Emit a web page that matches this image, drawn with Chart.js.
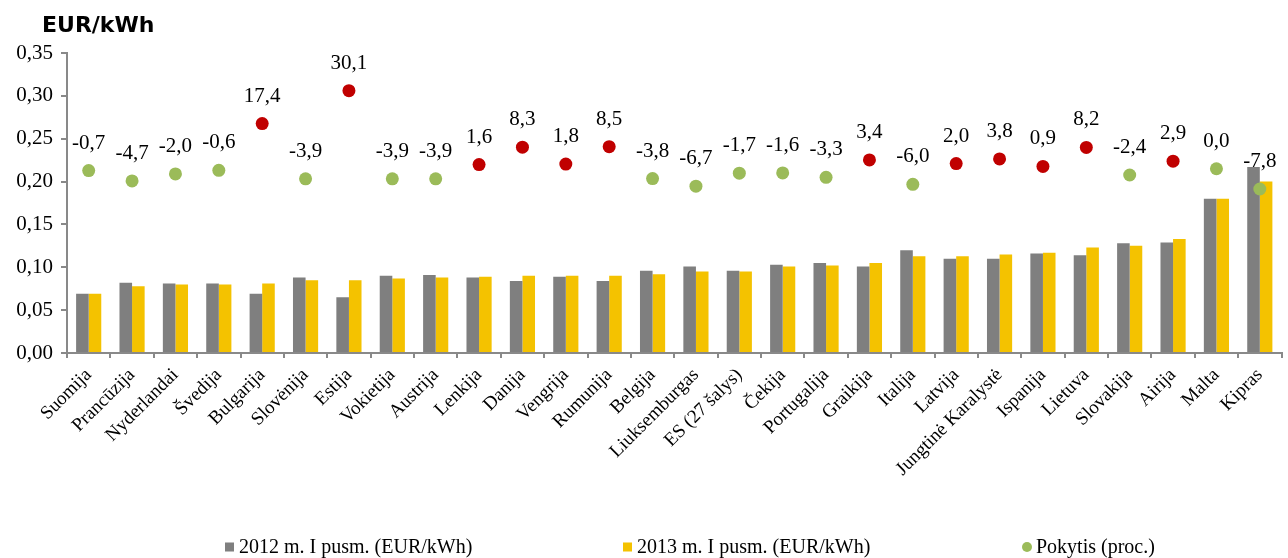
<!DOCTYPE html>
<html>
<head>
<meta charset="utf-8">
<title>EUR/kWh</title>
<script src="https://cdn.jsdelivr.net/npm/chart.js@4.4.0/dist/chart.umd.min.js"></script>
<style>
    html, body { margin: 0; padding: 0; background: #fff; }
    #wrap { position: relative; width: 1288px; height: 558px; }
</style>
</head>
<body>
<div id="wrap"><canvas id="chart"></canvas></div>
<script>
(function () {
    "use strict";

    // Data
    const categories = ["Suomija", "Prancūzija", "Nyderlandai", "Švedija", "Bulgarija", "Slovėnija",
        "Estija", "Vokietija", "Austrija", "Lenkija", "Danija", "Vengrija", "Rumunija", "Belgija",
        "Liuksemburgas", "ES (27 šalys)", "Čekija", "Portugalija", "Graikija", "Italija", "Latvija",
        "Jungtinė Karalystė", "Ispanija", "Lietuva", "Slovakija", "Airija", "Malta", "Kipras"];

    const price2012 = [0.069, 0.082, 0.081, 0.081, 0.069, 0.088, 0.065, 0.090, 0.091, 0.088,
        0.084, 0.089, 0.084, 0.096, 0.101, 0.096, 0.103, 0.105, 0.101, 0.120, 0.110, 0.110,
        0.116, 0.114, 0.128, 0.129, 0.180, 0.217];

    const price2013 = [0.069, 0.078, 0.080, 0.080, 0.081, 0.085, 0.085, 0.087, 0.088, 0.089,
        0.090, 0.090, 0.090, 0.092, 0.095, 0.095, 0.101, 0.102, 0.105, 0.113, 0.113, 0.115,
        0.117, 0.123, 0.125, 0.133, 0.180, 0.200];

    const changePct = [-0.7, -4.7, -2.0, -0.6, 17.4, -3.9, 30.1, -3.9, -3.9, 1.6, 8.3, 1.8, 8.5,
        -3.8, -6.7, -1.7, -1.6, -3.3, 3.4, -6.0, 2.0, 3.8, 0.9, 8.2, -2.4, 2.9, 0.0, -7.8];

    const seriesNames = ["2012 m. I pusm. (EUR/kWh)", "2013 m. I pusm. (EUR/kWh)", "Pokytis (proc.)"];
    const unitTitle = "EUR/kWh";

    const GRAY = "#7f7f7f";
    const YELLOW = "#f4c200";
    const RED = "#c00000";
    const GREEN = "#9bbb59";
    const AXIS = "#898989";
    const SERIF = '"Liberation Serif", "Times New Roman", serif';

    const fmt = (v, d) => v.toFixed(d).replace(".", ",");

    Chart.defaults.font.family = SERIF;
    Chart.defaults.color = "#000";

    // Unit title top-left
    const unitTitlePlugin = {
        id: "unitTitle",
        afterDraw(chart) {
            const ctx = chart.ctx;
            ctx.save();
            ctx.font = 'bold 22px "DejaVu Sans", Verdana, sans-serif';
            ctx.fillStyle = "#000";
            ctx.textAlign = "left";
            ctx.textBaseline = "alphabetic";
            ctx.fillText(unitTitle, 42, 32);
            ctx.restore();
        }
    };

    // Percent labels above the dots
    const pctLabels = {
        id: "pctLabels",
        afterDatasetsDraw(chart) {
            const meta = chart.getDatasetMeta(2);
            const ctx = chart.ctx;
            ctx.save();
            ctx.font = "21px " + SERIF;
            ctx.fillStyle = "#000";
            ctx.textAlign = "center";
            ctx.textBaseline = "alphabetic";
            meta.data.forEach((pt, i) => {
                ctx.fillText(fmt(changePct[i], 1), pt.x, pt.y - 22);
            });
            ctx.restore();
        }
    };

    // Legend at the bottom, spaced like the original
    const legendX = [225, 623, 1022];
    const bottomLegend = {
        id: "bottomLegend",
        afterDraw(chart) {
            const ctx = chart.ctx;
            const y = 547;
            ctx.save();
            ctx.font = "20px " + SERIF;
            ctx.textAlign = "left";
            ctx.textBaseline = "middle";
            seriesNames.forEach((name, i) => {
                const x = legendX[i];
                if (i < 2) {
                    ctx.fillStyle = i === 0 ? GRAY : YELLOW;
                    ctx.fillRect(x, y - 4.5, 9, 9);
                } else {
                    ctx.fillStyle = GREEN;
                    ctx.beginPath();
                    ctx.arc(x + 5, y, 5, 0, Math.PI * 2);
                    ctx.fill();
                }
                ctx.fillStyle = "#000";
                ctx.fillText(name, x + 14, y + 1);
            });
            ctx.restore();
        }
    };

    const ctx = document.getElementById("chart").getContext("2d");
    const myChart = new Chart(ctx, {
        data: {
            labels: categories,
            datasets: [{
                type: "bar",
                label: seriesNames[0],
                data: price2012,
                backgroundColor: GRAY,
                categoryPercentage: 0.58,
                barPercentage: 1.0,
                order: 1
            },
            {
                type: "bar",
                label: seriesNames[1],
                data: price2013,
                backgroundColor: YELLOW,
                categoryPercentage: 0.58,
                barPercentage: 1.0,
                order: 1
            },
            {
                type: "line",
                label: seriesNames[2],
                data: changePct,
                yAxisID: "y2",
                showLine: false,
                pointRadius: 6.5,
                pointBorderWidth: 0,
                pointBackgroundColor: (c) => changePct[c.dataIndex] > 0 ? RED : GREEN,
                pointBorderColor: (c) => changePct[c.dataIndex] > 0 ? RED : GREEN,
                order: 0
            }]
        },
        options: {
            responsive: true,
            maintainAspectRatio: false,
            animation: false,
            events: [],
            layout: {
                padding: { top: 53, right: 6, bottom: 0, left: 0 }
            },
            plugins: {
                legend: { display: false },
                tooltip: { enabled: false }
            },
            scales: {
                x: {
                    grid: {
                        offset: true,
                        drawOnChartArea: false,
                        drawTicks: true,
                        tickLength: 5,
                        color: AXIS,
                        lineWidth: 2
                    },
                    border: { display: true, color: AXIS, width: 2 },
                    ticks: {
                        autoSkip: false,
                        maxRotation: 45,
                        minRotation: 45,
                        padding: 6,
                        font: { size: 19 }
                    },
                    afterFit: (scale) => { scale.height = 205; }
                },
                y: {
                    min: 0,
                    max: 0.35,
                    grid: {
                        drawOnChartArea: false,
                        drawTicks: true,
                        tickLength: 6,
                        color: AXIS,
                        lineWidth: 2
                    },
                    border: { display: true, color: AXIS, width: 2 },
                    ticks: {
                        stepSize: 0.05,
                        padding: 8,
                        font: { size: 21 },
                        callback: (v) => fmt(v, 2)
                    },
                    afterFit: (scale) => { scale.width = 67; }
                },
                y2: {
                    display: false,
                    min: -71,
                    max: 44.6
                }
            }
        },
        plugins: [unitTitlePlugin, pctLabels, bottomLegend]
    });
})();
</script>
</body>
</html>
